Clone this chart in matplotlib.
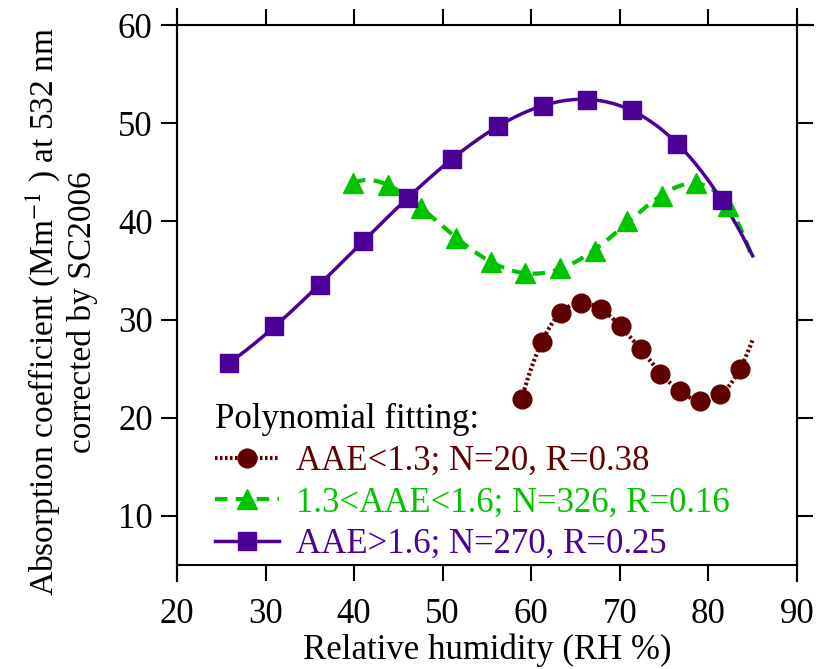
import numpy as np
import matplotlib.pyplot as plt
from matplotlib.lines import Line2D

# -----------------------------
# Data
# -----------------------------
rh_low = [58.9, 61.2, 63.4, 65.6, 67.9, 70.1, 72.4, 74.5, 76.8, 79.0, 81.3, 83.6]
abs_low = [21.9, 27.7, 30.7, 31.7, 31.1, 29.3, 27.0, 24.5, 22.7, 21.7, 22.4, 25.0]

rh_mid = [39.9, 43.8, 47.6, 51.5, 55.5, 59.3, 63.2, 67.2, 70.8, 74.8, 78.6, 82.2]
abs_mid = [43.9, 43.7, 41.4, 38.3, 35.9, 34.7, 35.2, 37.0, 40.0, 42.6, 43.9, 41.6]

rh_high = [25.9, 31.0, 36.1, 41.0, 46.1, 51.1, 56.2, 61.3, 66.3, 71.4, 76.4, 81.5]
abs_high = [25.6, 29.3, 33.5, 38.0, 42.4, 46.4, 49.7, 51.8, 52.4, 51.3, 47.9, 42.2]

fit_end = 85.0

labels = ["AAE<1.3; N=20, R=0.38",
          "1.3<AAE<1.6; N=326, R=0.16",
          "AAE>1.6; N=270, R=0.25"]

c_low = "#600000"
c_mid = "#00C400"
c_high = "#4B0096"

plt.rcParams["font.family"] = ["Liberation Serif", "DejaVu Serif"]
plt.rcParams["mathtext.fontset"] = "stix"
FS = 25

fig = plt.figure(figsize=(8.18, 6.69), dpi=100, facecolor="white")
ax = fig.add_axes([0.2164, 0.1555, 0.7579, 0.8071])

series = [
    (rh_low, abs_low, 3, c_low, (0, (0.6, 0.6)), "o", 13.5, 3.0),
    (rh_mid, abs_mid, 6, c_mid, (0, (3, 2)), "^", 14.5, 3.0),
    (rh_high, abs_high, 3, c_high, "-", "s", 13.5, 2.5),
]

handles = []
for x, y, deg, col, ls, mk, ms, lw in series:
    coef = np.polyfit(x, y, deg)
    xf = np.linspace(x[0], fit_end, 200)
    ax.plot(xf, np.polyval(coef, xf), color=col, linestyle=ls, linewidth=lw, zorder=2)
    ax.plot(x, y, linestyle="none", marker=mk, markersize=ms, color=col, zorder=3)
    handles.append(Line2D([], [], color=col, linestyle=ls, linewidth=lw,
                          marker=mk, markersize=ms))

# -----------------------------
# Axes styling
# -----------------------------
ax.set_xlim(20, 90)
ax.set_ylim(5, 60)
ax.set_xticks(np.arange(20, 91, 10))
ax.set_yticks(np.arange(10, 61, 10))

for sp in ax.spines.values():
    sp.set_linewidth(1.5)

ax.tick_params(which="major", direction="out", length=11.5, width=1.5,
               labelsize=FS, top=True, right=True, pad=6)
ax.tick_params(axis="x", pad=12)

# Axis lines continue past the corners (tick-length overhang)
dy = 16 / 540
dx = 16 / 620
for seg in [([0, 0], [-dy, 1 + dy]), ([1, 1], [-dy, 1 + dy]), ([1, 1 + dx], [1, 1])]:
    ax.add_line(Line2D(seg[0], seg[1], transform=ax.transAxes, color="black",
                       linewidth=1.5, clip_on=False))

ax.set_xlabel("Relative humidity (RH %)", fontsize=FS, labelpad=2)
ax.set_ylabel("Absorption coefficient (Mm$^{-1}$ ) at 532 nm\ncorrected by SC2006",
              fontsize=24, linespacing=1.2)
ax.yaxis.set_label_coords(-0.127, 0.469)

leg = ax.legend(handles, labels, title="Polynomial fitting:", loc="upper left",
                bbox_to_anchor=(0.061, 0.30), frameon=False, fontsize=FS,
                title_fontsize=FS, handlelength=1.85, handletextpad=0.5,
                labelspacing=0.25, alignment="left", borderpad=0, borderaxespad=0,
                labelcolor="linecolor")

fig.savefig("out.png", dpi=100, facecolor="white")
